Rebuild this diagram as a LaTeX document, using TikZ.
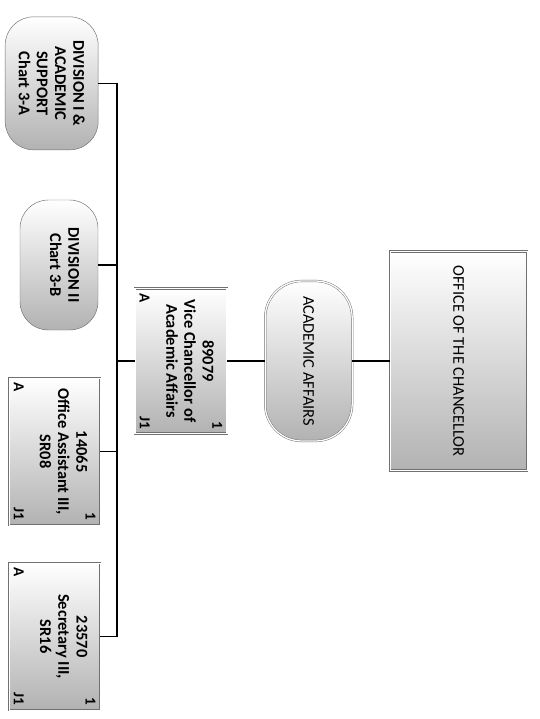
\documentclass[tikz,border=0pt]{standalone}
\usepackage{fontspec}
\setmainfont{Carlito}
\usetikzlibrary{positioning,calc}
\definecolor{chartgray}{HTML}{B2B2B2}
\definecolor{chartline}{HTML}{707070}

\begin{document}
\begin{tikzpicture}[
  font=\fontsize{14}{15.5}\selectfont,
  shadebox/.style={rotate=-90,top color=white,bottom color=chartgray,inner sep=3pt,align=center},
  office/.style={shadebox,draw=chartline,double=white,double distance=1.1pt,thin},
  unitbox/.style={shadebox,draw=chartline,thin,rounded corners=0.85cm,font=\fontsize{14}{15.5}\selectfont\bfseries},
  post/.style={office,minimum width=4.41cm,minimum height=2.73cm,font=\fontsize{14}{15.5}\selectfont\bfseries},
  tag/.style={rotate=-90,font=\fontsize{13}{13}\selectfont\bfseries,inner sep=4pt},
  link/.style={draw=black,line width=1pt}
]
\useasboundingbox (0,0) rectangle (16.17,-21.57);
\node[office,minimum width=6.57cm,minimum height=4.11cm] (chanc) at (13.76,-10.83) {OFFICE OF THE CHANCELLOR};
\node[office,rounded corners=1.1cm,minimum width=4.8cm,minimum height=2.61cm] (acad) at (9.26,-10.83) {ACADEMIC AFFAIRS};
\node[post,minimum width=4.35cm,minimum height=2.76cm] (vc) at (5.43,-10.83) {89079\\Vice Chancellor of\\Academic Affairs\\\mbox{}};
\node[tag,anchor=north east] (vc-n) at (vc.north east) {1};
\node[tag,anchor=south west] (vc-a) at (vc.south west) {A};
\node[tag,anchor=south east] (vc-j) at (vc.south east) {J1};
% divisions
\node[unitbox,minimum width=3.99cm,minimum height=2.79cm] (div1) at (1.55,-2.5) {DIVISION I \&\\ACADEMIC\\SUPPORT\\Chart 3-A};
\node[unitbox,minimum width=3.9cm,minimum height=2.34cm] (div2) at (1.77,-7.95) {DIVISION II\\Chart 3-B\\[-6pt]\mbox{}};
% staff
\node[post] (asst) at (1.64,-13.55) {14065\\Office Assistant III,\\SR08\\\mbox{}};
\node[tag,anchor=north east] (asst-n) at (asst.north east) {1};
\node[tag,anchor=south west] (asst-a) at (asst.south west) {A};
\node[tag,anchor=south east] (asst-j) at (asst.south east) {J1};
\node[post] (sec) at (1.64,-19.1) {23570\\Secretary III,\\SR16\\\mbox{}};
\node[tag,anchor=north east] (sec-n) at (sec.north east) {1};
\node[tag,anchor=south west] (sec-a) at (sec.south west) {A};
\node[tag,anchor=south east] (sec-j) at (sec.south east) {J1};
\coordinate (hub) at (3.51,-10.83);
\draw[link] (chanc.south) -- (acad.north);
\draw[link] (acad.south) -- (vc.north);
\draw[link] (vc.south) -- (hub);
\draw[link] (hub) |- (div1.north);
\draw[link] (hub) |- (div2.north);
\draw[link] (hub) |- (asst.north);
\draw[link] (hub) |- (sec.north);
\end{tikzpicture}
\end{document}
